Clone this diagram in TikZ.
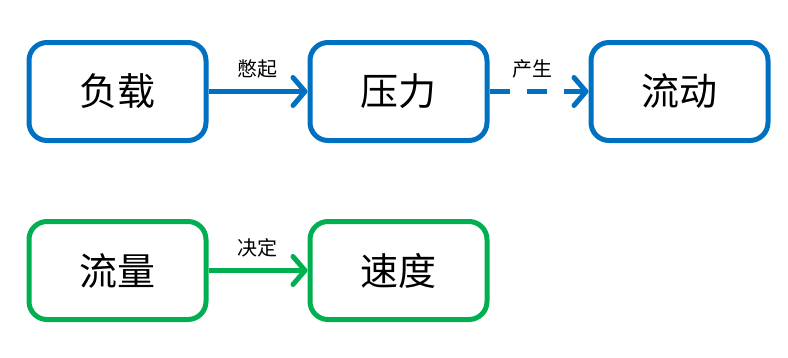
\documentclass[tikz,border=0pt]{standalone}
\usepackage{fontspec}
\newfontfamily\cjk{Noto Sans CJK SC}
\usetikzlibrary{arrows.meta}
\definecolor{bblue}{HTML}{0070C0}
\definecolor{bgreen}{HTML}{00B050}
\begin{document}
\begin{tikzpicture}[x=1pt,y=-1pt,
  box/.style={draw, line width=5pt, rounded corners=18pt, minimum width=177pt, minimum height=98pt, inner sep=0pt, font=\cjk\fontsize{38}{42}\selectfont, fill=white},
  conn/.style={line width=5pt, -{Straight Barb[length=12pt,width=28pt,line cap=round,line join=round]}},
  lab/.style={font=\cjk\fontsize{20}{22}\selectfont, inner sep=0pt}]
\useasboundingbox (0,0) rectangle (788,357);
\node[box, draw=bblue] (a) at (117.5,91.5) {负载};
\node[box, draw=bblue] (b) at (398.5,91.5) {压力};
\node[box, draw=bblue] (c) at (679.5,91.5) {流动};
\node[box, draw=bgreen] (d) at (117.5,270.5) {流量};
\node[box, draw=bgreen] (e) at (398.5,270.5) {速度};
\draw[conn, draw=bblue] (a.east) -- (b.west);
\draw[conn, draw=bblue, dash pattern=on 20pt off 17pt] (b.east) -- (c.west);
\draw[conn, draw=bgreen] (d.east) -- (e.west);
\node[lab] (l1) at (257,69) {憋起};
\node[lab] (l2) at (532,69) {产生};
\node[lab] (l3) at (257,248) {决定};
\end{tikzpicture}
\end{document}
